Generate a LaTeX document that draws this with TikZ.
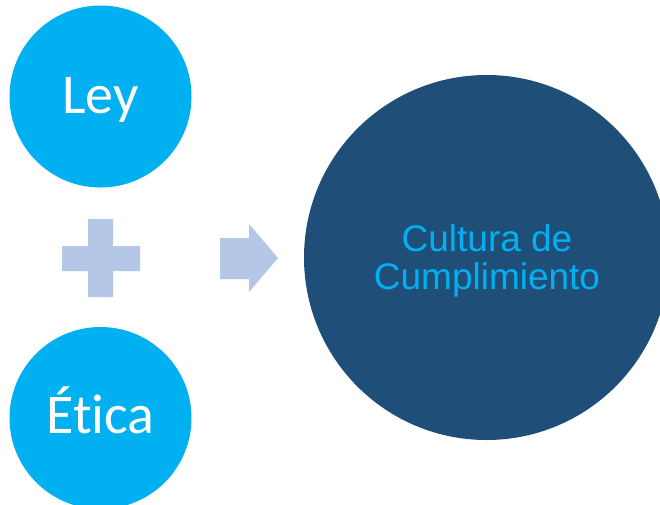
\documentclass[tikz,border=0pt]{standalone}
\usepackage{fontspec}
\setmainfont{Carlito}[Ligatures=NoCommon]
\newfontfamily\arialfont{Liberation Sans}
\usepackage{tikz}

\definecolor{cyanfill}{HTML}{00B0F0}
\definecolor{navyfill}{HTML}{1F4E79}
\definecolor{paleblue}{HTML}{B4C7E7}

\begin{document}
\begin{tikzpicture}[x=1pt,y=-1pt]
    \tikzstyle{term}=[circle,fill=cyanfill,minimum size=182pt,inner sep=0pt]
    \tikzstyle{termtext}=[anchor=base,text=white,font=\fontsize{56}{56}\selectfont]
    \tikzstyle{result}=[circle,fill=navyfill,minimum size=365pt,inner sep=0pt]
    \tikzstyle{resulttext}=[align=center,text=cyanfill,font=\arialfont\fontsize{37}{37.6}\selectfont]
    \tikzstyle{sign}=[fill=paleblue]
    \useasboundingbox (0,0) rectangle (660,504);
    \node (ley)     at (100.5,96.5)  [term] {};
    \node (etica)   at (100.5,418)   [term] {};
    \node (cultura) at (486.5,257.5) [result] {};
    \node (leytxt)     at (100.5,113.3) [termtext] {Ley};
    \node (eticatxt)   at (100.5,433.3) [termtext] {Ética};
    \node (culturatxt) at (487,261)     [resulttext] {Cultura de\\Cumplimiento};
    % plus sign
    \fill [sign] (88,219) -- (113,219) -- (113,246) -- (140,246) -- (140,271) -- (113,271)
        -- (113,297) -- (88,297) -- (88,271) -- (62,271) -- (62,246) -- (88,246) -- cycle;
    % arrow
    \fill [sign] (220,238) -- (249,238) -- (249,224) -- (278,258) -- (249,292) -- (249,279)
        -- (220,279) -- cycle;
\end{tikzpicture}
\end{document}
